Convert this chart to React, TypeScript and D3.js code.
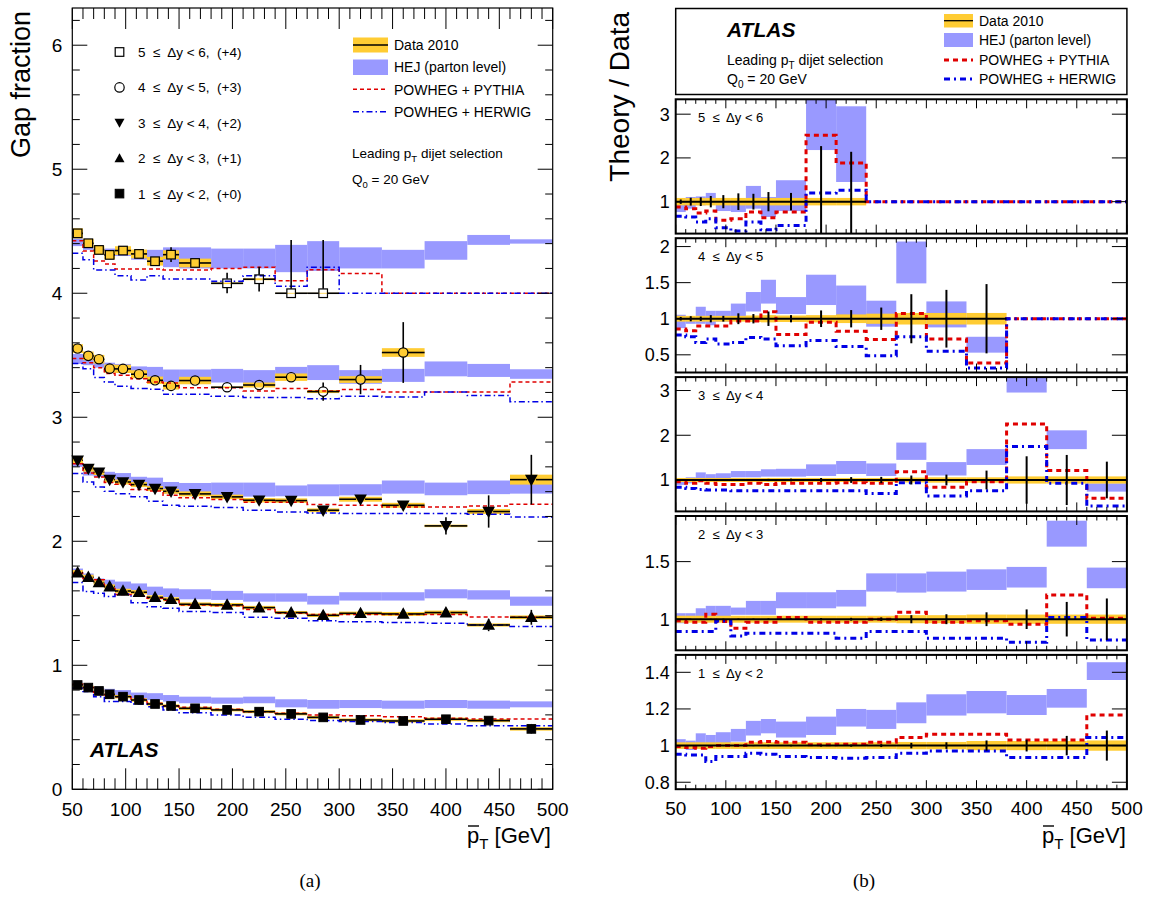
import React from "react";
import * as d3 from "d3";

// ---------- binning and ticks ----------
const binEdges = [50, 60, 70, 80, 90, 105, 120, 135, 150, 180, 210, 240, 270, 300, 340, 380, 420, 460, 500];
const xMajorTicks = [50, 100, 150, 200, 250, 300, 350, 400, 450, 500];
const leftYTicks = [0, 1, 2, 3, 4, 5, 6];

// ---------- (a) gap fractions, without offsets ----------
// 1 <= dy < 2 (+0)
const gf12 = [0.841, 0.82, 0.793, 0.766, 0.747, 0.72, 0.688, 0.672, 0.653, 0.64, 0.626, 0.608, 0.58, 0.559, 0.551, 0.565, 0.554, 0.487];
const gf12Stat = [0.002, 0.002, 0.002, 0.002, 0.003, 0.003, 0.003, 0.003, 0.003, 0.004, 0.004, 0.005, 0.009, 0.01, 0.015, 0.018, 0.03, 0.04];
const gf12Syst = [0.015, 0.015, 0.015, 0.014, 0.014, 0.014, 0.013, 0.013, 0.013, 0.012, 0.012, 0.012, 0.012, 0.012, 0.013, 0.013, 0.013, 0.014];
const hej12Lo = [0.815, 0.8, 0.774, 0.77, 0.747, 0.726, 0.72, 0.707, 0.694, 0.69, 0.694, 0.661, 0.65, 0.655, 0.65, 0.655, 0.65, 0.661];
const hej12Hi = [0.86, 0.83, 0.815, 0.81, 0.8, 0.78, 0.775, 0.76, 0.747, 0.74, 0.747, 0.726, 0.72, 0.72, 0.715, 0.72, 0.715, 0.709];
const pyt12 = [0.847, 0.82, 0.78, 0.76, 0.747, 0.726, 0.694, 0.672, 0.661, 0.645, 0.626, 0.613, 0.6, 0.594, 0.586, 0.573, 0.567, 0.567];
const her12 = [0.815, 0.788, 0.747, 0.707, 0.707, 0.688, 0.665, 0.64, 0.618, 0.6, 0.58, 0.565, 0.555, 0.546, 0.538, 0.527, 0.513, 0.513];

// 2 <= dy < 3 (+1)
const gf23 = [0.747, 0.71, 0.667, 0.634, 0.599, 0.589, 0.548, 0.532, 0.492, 0.487, 0.465, 0.425, 0.403, 0.419, 0.414, 0.425, 0.325, 0.387];
const gf23Stat = [0.003, 0.003, 0.003, 0.003, 0.003, 0.004, 0.004, 0.004, 0.005, 0.005, 0.006, 0.007, 0.014, 0.018, 0.025, 0.035, 0.05, 0.06];
const gf23Syst = [0.02, 0.02, 0.019, 0.018, 0.018, 0.017, 0.016, 0.016, 0.015, 0.015, 0.014, 0.013, 0.014, 0.014, 0.016, 0.016, 0.013, 0.015];
const hej23Lo = [0.73, 0.69, 0.665, 0.634, 0.61, 0.59, 0.567, 0.55, 0.532, 0.527, 0.513, 0.513, 0.49, 0.522, 0.522, 0.54, 0.53, 0.48];
const hej23Hi = [0.78, 0.74, 0.7, 0.69, 0.675, 0.66, 0.634, 0.62, 0.613, 0.6, 0.58, 0.58, 0.56, 0.589, 0.589, 0.613, 0.605, 0.554];
const pyt23 = [0.742, 0.7, 0.69, 0.62, 0.57, 0.56, 0.54, 0.525, 0.487, 0.48, 0.45, 0.42, 0.41, 0.41, 0.41, 0.41, 0.39, 0.387];
const her23 = [0.667, 0.594, 0.58, 0.554, 0.575, 0.505, 0.473, 0.46, 0.433, 0.425, 0.387, 0.38, 0.36, 0.352, 0.344, 0.339, 0.325, 0.312];

// 3 <= dy < 4 (+2)
const gf34 = [0.653, 0.586, 0.556, 0.497, 0.478, 0.457, 0.425, 0.403, 0.382, 0.358, 0.331, 0.328, 0.25, 0.339, 0.29, 0.124, 0.24, 0.497];
const gf34Stat = [0.005, 0.006, 0.006, 0.007, 0.007, 0.008, 0.008, 0.009, 0.01, 0.012, 0.015, 0.018, 0.02, 0.03, 0.035, 0.07, 0.13, 0.2];
const gf34Syst = [0.025, 0.025, 0.022, 0.022, 0.02, 0.02, 0.02, 0.02, 0.02, 0.018, 0.018, 0.018, 0.015, 0.02, 0.02, 0.01, 0.02, 0.04];
const hej34Lo = [0.6, 0.53, 0.52, 0.49, 0.465, 0.44, 0.425, 0.384, 0.384, 0.371, 0.36, 0.363, 0.363, 0.37, 0.384, 0.371, 0.38, 0.384];
const hej34Hi = [0.64, 0.6, 0.58, 0.56, 0.55, 0.52, 0.513, 0.478, 0.47, 0.473, 0.473, 0.45, 0.459, 0.46, 0.49, 0.473, 0.49, 0.48];
const pyt34 = [0.626, 0.55, 0.519, 0.473, 0.46, 0.417, 0.406, 0.371, 0.35, 0.336, 0.315, 0.315, 0.296, 0.29, 0.277, 0.277, 0.285, 0.298];
const her34 = [0.546, 0.478, 0.438, 0.403, 0.384, 0.358, 0.323, 0.29, 0.282, 0.272, 0.25, 0.237, 0.228, 0.223, 0.223, 0.223, 0.218, 0.196];

// 4 <= dy < 5 (+3)
const gf45 = [0.554, 0.495, 0.468, 0.392, 0.39, 0.347, 0.298, 0.253, 0.296, 0.242, 0.26, 0.323, 0.207, 0.304, 0.522];
const gf45Stat = [0.006, 0.008, 0.008, 0.01, 0.01, 0.012, 0.012, 0.015, 0.012, 0.02, 0.022, 0.03, 0.074, 0.118, 0.245];
const gf45Syst = [0.035, 0.035, 0.035, 0.033, 0.033, 0.032, 0.03, 0.03, 0.03, 0.006, 0.02, 0.03, 0.012, 0.027, 0.035];
const hej45Lo = [0.43, 0.42, 0.4, 0.38, 0.37, 0.34, 0.31, 0.285, 0.285, 0.28, 0.26, 0.325, 0.3, 0.27, 0.285, 0.33, 0.325, 0.31];
const hej45Hi = [0.51, 0.47, 0.46, 0.44, 0.43, 0.41, 0.406, 0.385, 0.385, 0.39, 0.38, 0.406, 0.42, 0.38, 0.39, 0.45, 0.43, 0.387];
const pyt45 = [0.473, 0.44, 0.4, 0.352, 0.339, 0.31, 0.285, 0.277, 0.237, 0.237, 0.212, 0.231, 0.212, 0.223, 0.204, 0.204, 0.204, 0.285];
const her45 = [0.433, 0.392, 0.32, 0.285, 0.25, 0.231, 0.225, 0.185, 0.185, 0.169, 0.159, 0.159, 0.15, 0.169, 0.164, 0.204, 0.175, 0.124];

// 5 <= dy < 6 (+4)
const gf56 = [0.483, 0.403, 0.349, 0.309, 0.344, 0.317, 0.258, 0.311, 0.244, 0.08, 0.113, 0.0, 0.0];
const gf56Stat = [0.012, 0.015, 0.015, 0.018, 0.02, 0.025, 0.025, 0.06, 0.03, 0.085, 0.1, 0.43, 0.43];
const gf56Syst = [0.04, 0.035, 0.035, 0.035, 0.035, 0.035, 0.035, 0.035, 0.035, 0.006, 0.008, 0.003, 0.003];
const hej56Lo = [0.38, 0.35, 0.33, 0.3, 0.3, 0.27, 0.26, 0.21, 0.2, 0.2, 0.2, 0.17, 0.18, 0.2, 0.2, 0.27, 0.39, 0.4];
const hej56Hi = [0.44, 0.4, 0.37, 0.36, 0.35, 0.34, 0.35, 0.37, 0.37, 0.36, 0.36, 0.39, 0.42, 0.37, 0.35, 0.42, 0.47, 0.435];
const pyt56 = [0.424, 0.34, 0.26, 0.236, 0.196, 0.196, 0.196, 0.188, 0.188, 0.2, 0.21, 0.1, 0.19, 0.16, 0, 0, 0, 0];
const her56 = [0.322, 0.27, 0.188, 0.188, 0.142, 0.107, 0.142, 0.115, 0.115, 0.097, 0.142, 0.056, 0.21, 0, 0, 0, 0, 0];

// ---------- (b) theory / data ratios ----------
const r56Syst = [0.085, 0.085, 0.085, 0.085, 0.085, 0.085, 0.085, 0.085, 0.085, 0.085, 0.085];
const r56Stat = [0.05, 0.09, 0.1, 0.13, 0.15, 0.19, 0.18, 0.22, 0.2, 1.27, 1.14];
const r56HejLo = [0.763, 0.84, 0.916, 0.94, 0.786, 0.763, 0.84, 0.65, 0.786, 2.18, 1.45];
const r56HejHi = [1.07, 1.107, 1.12, 1.2, 1.046, 1.05, 1.36, 1.107, 1.49, 3.5, 3.18];
const r56Pyt = [0.878, 0.84, 0.74, 0.786, 0.573, 0.61, 0.763, 0.634, 0.763, 2.52, 1.885, 1, 1, 1, 1, 1, 1, 1];
const r56Her = [0.664, 0.65, 0.534, 0.61, 0.405, 0.33, 0.534, 0.36, 0.458, 1.2, 1.26, 1, 1, 1, 1, 1, 1, 1];

const r45Syst = [0.04, 0.04, 0.04, 0.04, 0.04, 0.04, 0.045, 0.05, 0.045, 0.05, 0.06, 0.07, 0.08, 0.08, 0.08];
const r45Stat = [0.025, 0.035, 0.03, 0.05, 0.04, 0.075, 0.065, 0.1, 0.05, 0.115, 0.12, 0.155, 0.34, 0.4, 0.48];
const r45HejLo = [0.87, 0.93, 0.93, 0.91, 0.96, 0.98, 1.1, 1.21, 1.065, 1.19, 1.04, 0.89, 1.49, 0.88, 0.53];
const r45HejHi = [1.055, 1.01, 1.166, 1.11, 1.11, 1.21, 1.37, 1.54, 1.3, 1.61, 1.46, 1.25, 2.07, 1.24, 0.75];
const r45Pyt = [0.857, 0.834, 0.9, 0.9, 0.9, 0.97, 0.97, 1.097, 0.78, 0.95, 0.825, 0.714, 1.074, 0.72, 0.386, 1, 1, 1];
const r45Her = [0.774, 0.75, 0.67, 0.72, 0.65, 0.67, 0.74, 0.72, 0.626, 0.7, 0.617, 0.488, 0.75, 0.548, 0.317, 1, 1, 1];

const r34Syst = [0.045, 0.045, 0.045, 0.045, 0.045, 0.045, 0.045, 0.045, 0.045, 0.045, 0.045, 0.045, 0.055, 0.06, 0.06, 0.08, 0.08, 0.08];
const r34Stat = [0.01, 0.012, 0.012, 0.015, 0.015, 0.02, 0.02, 0.025, 0.03, 0.045, 0.065, 0.07, 0.1, 0.12, 0.21, 0.53, 0.56, 0.41];
const r34HejLo = [0.89, 0.925, 0.96, 1.0, 1.015, 1.06, 1.06, 1.075, 1.075, 1.09, 1.134, 1.09, 1.45, 1.1, 1.336, 2.955, 1.69, 0.74];
const r34HejHi = [1.045, 1.06, 1.17, 1.13, 1.15, 1.2, 1.2, 1.24, 1.25, 1.35, 1.425, 1.37, 1.836, 1.4, 1.69, 3.5, 2.11, 0.925];
const r34Pyt = [0.963, 0.925, 0.985, 0.925, 0.9, 0.9, 0.925, 0.9, 0.925, 0.925, 0.94, 0.925, 1.187, 0.836, 0.963, 2.254, 1.21, 0.59];
const r34Her = [0.836, 0.81, 0.79, 0.776, 0.776, 0.76, 0.76, 0.76, 0.76, 0.76, 0.76, 0.7, 0.94, 0.64, 0.76, 1.746, 0.925, 0.418];

const r23Syst = [0.03, 0.03, 0.03, 0.03, 0.03, 0.03, 0.03, 0.03, 0.03, 0.03, 0.03, 0.03, 0.035, 0.035, 0.04, 0.04, 0.04, 0.04];
const r23Stat = [0.003, 0.003, 0.003, 0.004, 0.004, 0.005, 0.005, 0.006, 0.007, 0.01, 0.012, 0.015, 0.035, 0.043, 0.06, 0.085, 0.15, 0.18];
const r23HejLo = [0.965, 0.994, 0.994, 1.023, 1.023, 1.038, 1.038, 1.038, 1.095, 1.095, 1.11, 1.24, 1.231, 1.24, 1.254, 1.275, 1.63, 1.269];
const r23HejHi = [1.052, 1.052, 1.095, 1.116, 1.116, 1.101, 1.159, 1.159, 1.234, 1.234, 1.254, 1.398, 1.398, 1.413, 1.433, 1.454, 1.855, 1.448];
const r23Pyt = [0.986, 0.974, 0.974, 1.043, 0.98, 0.922, 0.974, 0.974, 1.014, 0.974, 0.974, 1.0, 1.061, 0.974, 0.986, 0.957, 1.211, 1.009];
const r23Her = [0.893, 0.893, 0.893, 0.893, 0.985, 0.855, 0.879, 0.879, 0.879, 0.879, 0.835, 0.893, 0.893, 0.835, 0.835, 0.8, 1.014, 0.82];

const r12Syst = [0.018, 0.018, 0.018, 0.018, 0.018, 0.018, 0.018, 0.018, 0.018, 0.018, 0.018, 0.018, 0.02, 0.02, 0.025, 0.025, 0.025, 0.028];
const r12Stat = [0.002, 0.002, 0.002, 0.003, 0.003, 0.003, 0.003, 0.004, 0.004, 0.005, 0.006, 0.008, 0.015, 0.018, 0.028, 0.032, 0.053, 0.082];
const r12HejLo = [0.985, 0.976, 0.985, 1.004, 1.007, 1.022, 1.055, 1.067, 1.044, 1.058, 1.104, 1.091, 1.122, 1.164, 1.176, 1.167, 1.207, 1.358];
const r12HejHi = [1.035, 1.027, 1.067, 1.058, 1.073, 1.091, 1.135, 1.145, 1.131, 1.158, 1.2, 1.195, 1.236, 1.28, 1.298, 1.276, 1.309, 1.455];
const r12Pyt = [0.995, 0.989, 0.985, 0.995, 1.0, 1.0, 1.018, 1.022, 1.018, 1.004, 1.007, 1.018, 1.044, 1.062, 1.062, 1.031, 1.031, 1.167];
const r12Her = [0.953, 0.949, 0.949, 0.913, 0.94, 0.94, 0.958, 0.953, 0.94, 0.935, 0.931, 0.935, 0.958, 0.971, 0.971, 0.935, 0.935, 1.044];

// ratio panel y ranges and tick labels (top to bottom)
const ratioDomains = [[0.27, 3.34], [0.255, 2.116], [0.298, 3.3], [0.73, 1.896], [0.762, 1.495]];
const ratioTicks = [[1, 2, 3], [0.5, 1, 1.5, 2], [1, 2, 3], [1, 1.5], [0.8, 1, 1.2, 1.4]];

// ---------- styles ----------
const FONT = "'Liberation Sans', Arial, Helvetica, sans-serif";
const YELLOW = "#ffcc33";
const HEJC = "#9999ff";
const RED = "#e00000";
const BLUE = "#0000e6";

type MarkerType = "osquare" | "ocircle" | "tdown" | "tup" | "fsquare";

const slices = [
  { label: "5  ≤  Δy < 6", legend: "5  ≤  Δy < 6,  (+4)", offset: 4, marker: "osquare" as MarkerType, gf: gf56, stat: gf56Stat, syst: gf56Syst, hLo: hej56Lo, hHi: hej56Hi, pyt: pyt56, her: her56, rSyst: r56Syst, rStat: r56Stat, rHLo: r56HejLo, rHHi: r56HejHi, rPyt: r56Pyt, rHer: r56Her },
  { label: "4  ≤  Δy < 5", legend: "4  ≤  Δy < 5,  (+3)", offset: 3, marker: "ocircle" as MarkerType, gf: gf45, stat: gf45Stat, syst: gf45Syst, hLo: hej45Lo, hHi: hej45Hi, pyt: pyt45, her: her45, rSyst: r45Syst, rStat: r45Stat, rHLo: r45HejLo, rHHi: r45HejHi, rPyt: r45Pyt, rHer: r45Her },
  { label: "3  ≤  Δy < 4", legend: "3  ≤  Δy < 4,  (+2)", offset: 2, marker: "tdown" as MarkerType, gf: gf34, stat: gf34Stat, syst: gf34Syst, hLo: hej34Lo, hHi: hej34Hi, pyt: pyt34, her: her34, rSyst: r34Syst, rStat: r34Stat, rHLo: r34HejLo, rHHi: r34HejHi, rPyt: r34Pyt, rHer: r34Her },
  { label: "2  ≤  Δy < 3", legend: "2  ≤  Δy < 3,  (+1)", offset: 1, marker: "tup" as MarkerType, gf: gf23, stat: gf23Stat, syst: gf23Syst, hLo: hej23Lo, hHi: hej23Hi, pyt: pyt23, her: her23, rSyst: r23Syst, rStat: r23Stat, rHLo: r23HejLo, rHHi: r23HejHi, rPyt: r23Pyt, rHer: r23Her },
  { label: "1  ≤  Δy < 2", legend: "1  ≤  Δy < 2,  (+0)", offset: 0, marker: "fsquare" as MarkerType, gf: gf12, stat: gf12Stat, syst: gf12Syst, hLo: hej12Lo, hHi: hej12Hi, pyt: pyt12, her: her12, rSyst: r12Syst, rStat: r12Stat, rHLo: r12HejLo, rHHi: r12HejHi, rPyt: r12Pyt, rHer: r12Her },
];

const centers = binEdges.slice(0, -1).map((e, i) => (e + binEdges[i + 1]) / 2);

function stepPath(x: any, y: any, vals: number[], off: number) {
  const pts: [number, number][] = vals.map((v, i) => [binEdges[i], v + off]);
  pts.push([binEdges[vals.length], vals[vals.length - 1] + off]);
  return d3.line<[number, number]>().x((d) => x(d[0])).y((d) => y(d[1])).curve(d3.curveStepAfter)(pts) || "";
}

function Marker({ type, cx, cy }: { type: MarkerType; cx: number; cy: number }) {
  const s = 4.3;
  switch (type) {
    case "osquare":
      return <rect x={cx - s} y={cy - s} width={2 * s} height={2 * s} fill="none" stroke="#000" strokeWidth={1.2} />;
    case "fsquare":
      return <rect x={cx - s} y={cy - s} width={2 * s} height={2 * s} fill="#000" stroke="#000" strokeWidth={1} />;
    case "ocircle":
      return <circle cx={cx} cy={cy} r={s + 0.4} fill="none" stroke="#000" strokeWidth={1.2} />;
    case "tdown":
      return <path d={`M${cx - 5},${cy - 4} L${cx + 5},${cy - 4} L${cx},${cy + 5} Z`} fill="#000" />;
    case "tup":
      return <path d={`M${cx - 5},${cy + 4} L${cx + 5},${cy + 4} L${cx},${cy - 5} Z`} fill="#000" />;
  }
  return null;
}

function XTitle({ x, y }: { x: number; y: number }) {
  return (
    <g fontFamily={FONT}>
      <text x={x} y={y} fontSize={22}>
        p<tspan dy={6} fontSize={15}>T</tspan>
        <tspan dy={-6} fontSize={22} style={{ whiteSpace: "pre" }}>{" [GeV]"}</tspan>
      </text>
      <line x1={x + 1} x2={x + 12} y1={y - 17} y2={y - 17} stroke="#000" strokeWidth={1.4} />
    </g>
  );
}

function LeftPanel() {
  const X0 = 72.3, X1 = 552.7, Y0 = 8, Y1 = 789.3;
  const x = d3.scaleLinear().domain([50, 500]).range([X0, X1]);
  const y = d3.scaleLinear().domain([0, 6.3]).range([Y1, Y0]);
  const minorX = d3.range(50, 501, 10).filter((t) => t % 50 !== 0);
  const minorY = d3.range(0, 6.3, 0.2).filter((t) => Math.abs(t - Math.round(t)) > 0.01);
  const ms = 4.5;
  return (
    <g>
      {slices.map((s, si) => (
        <g key={"h" + si}>
          {s.hLo.map((lo, i) => (
            <rect key={i} x={x(binEdges[i])} width={x(binEdges[i + 1]) - x(binEdges[i])} y={y(s.hHi[i] + s.offset)} height={y(lo + s.offset) - y(s.hHi[i] + s.offset)} fill={HEJC} />
          ))}
        </g>
      ))}
      {slices.map((s, si) => (
        <g key={"b" + si}>
          {s.gf.map((v, i) => (
            <rect key={i} x={x(binEdges[i])} width={x(binEdges[i + 1]) - x(binEdges[i])} y={y(v + s.syst[i] + s.offset)} height={y(v - s.syst[i] + s.offset) - y(v + s.syst[i] + s.offset)} fill={YELLOW} />
          ))}
        </g>
      ))}
      {slices.map((s, si) => (
        <g key={"l" + si} fill="none">
          <path d={stepPath(x, y, s.pyt, s.offset)} stroke={RED} strokeWidth={1.5} strokeDasharray="4 3" />
          <path d={stepPath(x, y, s.her, s.offset)} stroke={BLUE} strokeWidth={1.5} strokeDasharray="6 3 1.5 3" />
        </g>
      ))}
      {slices.map((s, si) => (
        <g key={"d" + si}>
          {s.gf.map((v, i) => {
            const cx = x(centers[i]);
            const cy = y(v + s.offset);
            const yt = y(v + s.stat[i] + s.offset);
            const yb = y(Math.max(0, v - s.stat[i]) + s.offset);
            return (
              <g key={i} stroke="#000" strokeWidth={1.6}>
                <line x1={x(binEdges[i])} x2={cx - ms} y1={cy} y2={cy} />
                <line x1={cx + ms} x2={x(binEdges[i + 1])} y1={cy} y2={cy} />
                {cy - yt > ms && <line x1={cx} x2={cx} y1={yt} y2={cy - ms} />}
                {yb - cy > ms && <line x1={cx} x2={cx} y1={cy + ms} y2={yb} />}
                <Marker type={s.marker} cx={cx} cy={cy} />
              </g>
            );
          })}
        </g>
      ))}
      {/* frame and ticks */}
      <rect x={X0} y={Y0} width={X1 - X0} height={Y1 - Y0} fill="none" stroke="#000" strokeWidth={1.2} />
      <g stroke="#000" strokeWidth={1}>
        {xMajorTicks.map((t) => (
          <g key={t}>
            <line x1={x(t)} x2={x(t)} y1={Y1} y2={Y1 - 21} />
            <line x1={x(t)} x2={x(t)} y1={Y0} y2={Y0 + 21} />
          </g>
        ))}
        {minorX.map((t) => (
          <g key={t}>
            <line x1={x(t)} x2={x(t)} y1={Y1} y2={Y1 - 11} />
            <line x1={x(t)} x2={x(t)} y1={Y0} y2={Y0 + 11} />
          </g>
        ))}
        {leftYTicks.map((t) => (
          <g key={t}>
            <line x1={X0} x2={X0 + 15} y1={y(t)} y2={y(t)} />
            <line x1={X1} x2={X1 - 15} y1={y(t)} y2={y(t)} />
          </g>
        ))}
        {minorY.map((t) => (
          <g key={t}>
            <line x1={X0} x2={X0 + 7.5} y1={y(t)} y2={y(t)} />
            <line x1={X1} x2={X1 - 7.5} y1={y(t)} y2={y(t)} />
          </g>
        ))}
      </g>
      <g fontFamily={FONT} fontSize={19}>
        {leftYTicks.map((t) => (
          <text key={t} x={X0 - 10} y={y(t) + 7} textAnchor="end">{t}</text>
        ))}
        {xMajorTicks.map((t) => (
          <text key={t} x={x(t)} y={816} textAnchor="middle">{t}</text>
        ))}
      </g>
      <text transform="translate(30,11) rotate(-90)" textAnchor="end" fontFamily={FONT} fontSize={27}>Gap fraction</text>
      <XTitle x={467} y={843} />
      {/* marker legend */}
      <g fontFamily={FONT} fontSize={13.5}>
        {slices.map((s, si) => {
          const ly = 52 + si * 35.4;
          return (
            <g key={si}>
              <Marker type={s.marker} cx={119.5} cy={ly} />
              <text x={138} y={ly + 5} style={{ whiteSpace: "pre" }}>{s.legend}</text>
            </g>
          );
        })}
      </g>
      {/* model legend */}
      <g fontFamily={FONT} fontSize={14}>
        <rect x={353} y={37.5} width={35} height={15} fill={YELLOW} />
        <line x1={353} x2={388} y1={45} y2={45} stroke="#000" strokeWidth={1.3} />
        <text x={394} y={50}>Data 2010</text>
        <rect x={353} y={59.5} width={35} height={15.5} fill={HEJC} />
        <text x={394} y={72}>HEJ (parton level)</text>
        <line x1={353} x2={388} y1={89.3} y2={89.3} stroke={RED} strokeWidth={1.5} strokeDasharray="4 3" />
        <text x={394} y={94.5}>POWHEG + PYTHIA</text>
        <line x1={353} x2={388} y1={111.7} y2={111.7} stroke={BLUE} strokeWidth={1.5} strokeDasharray="6 3 1.5 3" />
        <text x={394} y={117}>POWHEG + HERWIG</text>
      </g>
      <g fontFamily={FONT} fontSize={13.5}>
        <text x={352} y={158}>
          Leading p<tspan dy={4} fontSize={9.5}>T</tspan><tspan dy={-4}> dijet selection</tspan>
        </text>
        <text x={352} y={184}>
          Q<tspan dy={4} fontSize={9.5}>0</tspan><tspan dy={-4}> = 20 GeV</tspan>
        </text>
      </g>
      <text x={90} y={757} fontFamily={FONT} fontSize={21} fontWeight="bold" fontStyle="italic">ATLAS</text>
    </g>
  );
}

function RightPanels() {
  const X0 = 675.7, X1 = 1126.9;
  const x = d3.scaleLinear().domain([50, 500]).range([X0, X1]);
  const minorX = d3.range(50, 501, 10).filter((t) => t % 50 !== 0);
  const top0 = 99.3, ph = 134.3, step = 138.9;
  return (
    <g>
      {/* legend box */}
      <rect x={X0} y={8.5} width={X1 - X0} height={86} fill="#fff" stroke="#000" strokeWidth={1.5} />
      <text x={727} y={37} fontFamily={FONT} fontSize={21} fontWeight="bold" fontStyle="italic">ATLAS</text>
      <g fontFamily={FONT} fontSize={14}>
        <text x={727} y={65}>
          Leading p<tspan dy={4} fontSize={10}>T</tspan><tspan dy={-4}> dijet selection</tspan>
        </text>
        <text x={727} y={84}>
          Q<tspan dy={4} fontSize={10}>0</tspan><tspan dy={-4}> = 20 GeV</tspan>
        </text>
        <rect x={944} y={14} width={29} height={13.5} fill={YELLOW} />
        <line x1={944} x2={973} y1={20.7} y2={20.7} stroke="#000" strokeWidth={1.3} />
        <text x={979} y={26}>Data 2010</text>
        <rect x={944} y={33} width={29} height={14} fill={HEJC} />
        <text x={979} y={45}>HEJ (parton level)</text>
        <line x1={944} x2={973} y1={60} y2={60} stroke={RED} strokeWidth={3} strokeDasharray="5 4" />
        <text x={979} y={65}>POWHEG + PYTHIA</text>
        <line x1={944} x2={973} y1={79} y2={79} stroke={BLUE} strokeWidth={3} strokeDasharray="6 4 2 4" />
        <text x={979} y={84}>POWHEG + HERWIG</text>
      </g>
      {slices.map((s, k) => {
        const top = top0 + k * step;
        const bot = top + ph;
        const y = d3.scaleLinear().domain(ratioDomains[k]).range([bot, top]).clamp(true);
        const nData = s.rStat.length;
        return (
          <g key={k}>
            {s.rHLo.map((lo, i) => (
              <rect key={"h" + i} x={x(binEdges[i])} width={x(binEdges[i + 1]) - x(binEdges[i])} y={y(s.rHHi[i])} height={y(lo) - y(s.rHHi[i])} fill={HEJC} />
            ))}
            {s.rSyst.map((e, i) => (
              <rect key={"b" + i} x={x(binEdges[i])} width={x(binEdges[i + 1]) - x(binEdges[i])} y={y(1 + e)} height={y(1 - e) - y(1 + e)} fill={YELLOW} />
            ))}
            <path d={stepPath(x, y, s.rPyt, 0)} fill="none" stroke={RED} strokeWidth={3} strokeDasharray="5 4" />
            <path d={stepPath(x, y, s.rHer, 0)} fill="none" stroke={BLUE} strokeWidth={3} strokeDasharray="6 4 2 4" />
            <line x1={x(50)} x2={x(binEdges[nData])} y1={y(1)} y2={y(1)} stroke="#000" strokeWidth={2} />
            {s.rStat.map((e, i) => (
              <line key={"e" + i} x1={x(centers[i])} x2={x(centers[i])} y1={y(1 + e)} y2={y(1 - e)} stroke="#000" strokeWidth={2} />
            ))}
            <rect x={X0} y={top} width={X1 - X0} height={ph} fill="none" stroke="#000" strokeWidth={2} />
            <g stroke="#000" strokeWidth={1}>
              {xMajorTicks.map((t) => (
                <g key={t}>
                  <line x1={x(t)} x2={x(t)} y1={bot} y2={bot - 9} />
                  <line x1={x(t)} x2={x(t)} y1={top} y2={top + 9} />
                </g>
              ))}
              {minorX.map((t) => (
                <g key={t}>
                  <line x1={x(t)} x2={x(t)} y1={bot} y2={bot - 4.5} />
                  <line x1={x(t)} x2={x(t)} y1={top} y2={top + 4.5} />
                </g>
              ))}
              {ratioTicks[k].map((t) => (
                <g key={t}>
                  <line x1={X0} x2={X0 + 15} y1={y(t)} y2={y(t)} />
                  <line x1={X1} x2={X1 - 15} y1={y(t)} y2={y(t)} />
                </g>
              ))}
            </g>
            <g fontFamily={FONT} fontSize={18}>
              {ratioTicks[k].map((t) => (
                <text key={t} x={X0 - 6} y={y(t) + 6.5} textAnchor="end">{t}</text>
              ))}
            </g>
            <text x={698} y={top + 23} fontFamily={FONT} fontSize={13} style={{ whiteSpace: "pre" }}>{s.label}</text>
          </g>
        );
      })}
      <g fontFamily={FONT} fontSize={19}>
        {xMajorTicks.map((t) => (
          <text key={t} x={x(t)} y={815} textAnchor="middle">{t}</text>
        ))}
      </g>
      <text transform="translate(629,12) rotate(-90)" textAnchor="end" fontFamily={FONT} fontSize={28}>Theory / Data</text>
      <XTitle x={1042} y={843} />
    </g>
  );
}

export default function App() {
  return (
    <svg width={1157} height={924} viewBox="0 0 1157 924" style={{ position: "absolute", left: 0, top: 0, background: "#fff" }}>
      <rect x={0} y={0} width={1157} height={924} fill="#fff" />
      <LeftPanel />
      <RightPanels />
      <text x={310} y={887} textAnchor="middle" fontFamily="'Liberation Serif', 'DejaVu Serif', serif" fontSize={19}>(a)</text>
      <text x={864} y={887} textAnchor="middle" fontFamily="'Liberation Serif', 'DejaVu Serif', serif" fontSize={19}>(b)</text>
    </svg>
  );
}
